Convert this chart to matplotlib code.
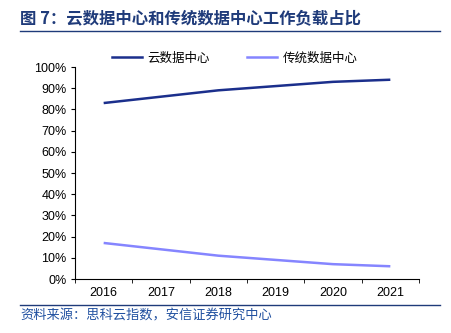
import matplotlib
matplotlib.use("Agg")
import matplotlib.pyplot as plt
from matplotlib.lines import Line2D
from matplotlib.ticker import FixedLocator

plt.rcParams['font.family'] = ['Liberation Sans', 'Noto Sans CJK SC', 'DejaVu Sans']

years = ['2016', '2017', '2018', '2019', '2020', '2021']
cloud = [83, 86, 89, 91, 93, 94]
traditional = [17, 14, 11, 9, 7, 6]
series_names = ['云数据中心', '传统数据中心']
title = '图 7：云数据中心和传统数据中心工作负载占比'
source = '资料来源：思科云指数，安信证券研究中心'

fig = plt.figure(figsize=(4.52, 3.33), dpi=100)
ax = fig.add_axes([75/452, 1-279/333, 344/452, 212/333])

x = list(range(len(years)))
c1 = '#1b2f8c'
c2 = '#8585ff'
ax.plot(x, cloud, color=c1, lw=1.8, solid_capstyle='butt')
ax.plot(x, traditional, color=c2, lw=1.8, solid_capstyle='butt')

ax.set_xlim(-0.5, len(years)-0.5)
ax.set_ylim(0, 100)
ax.set_xticks(x)
ax.set_xticklabels(years, fontsize=9)
ax.xaxis.set_minor_locator(FixedLocator([i-0.5 for i in range(len(years)+1)]))
ax.tick_params(axis='x', which='major', length=0, pad=6)
ax.tick_params(axis='x', which='minor', length=3, direction='out')
ax.set_yticks(range(0, 101, 10))
ax.set_yticklabels([f'{v}%' for v in range(0, 101, 10)], fontsize=9)
ax.tick_params(axis='y', length=3, direction='out', pad=3)
for s in ['top', 'right']:
    ax.spines[s].set_visible(False)
for s in ['left', 'bottom']:
    ax.spines[s].set_linewidth(0.8)

handles = [Line2D([], [], color=c1, lw=1.8), Line2D([], [], color=c2, lw=1.8)]
fig.legend(handles, series_names, loc='center', bbox_to_anchor=(235/452, 1-58/333),
           ncol=2, frameon=False, handlelength=2.4, columnspacing=3.0,
           handletextpad=0.4, prop={'family': ['Noto Sans CJK SC'], 'size': 9})

blue = '#1f3b7a'
fig.text(20/452, 1-18/333, title, fontsize=11.8, fontweight='bold', color=blue,
         va='center', ha='left', family=['Noto Sans CJK SC', 'DejaVu Sans'])
fig.add_artist(Line2D([20/452, 440/452], [1-31/333, 1-31/333], color=blue, lw=1.0))
fig.add_artist(Line2D([20/452, 440/452], [1-305/333, 1-305/333], color=blue, lw=1.0))
fig.text(20/452, 1-316/333, source, fontsize=9.5, color='#2050a0', style='italic',
         va='center', ha='left', family=['Noto Sans CJK SC', 'DejaVu Sans'])

fig.savefig('out.png', dpi=100)
